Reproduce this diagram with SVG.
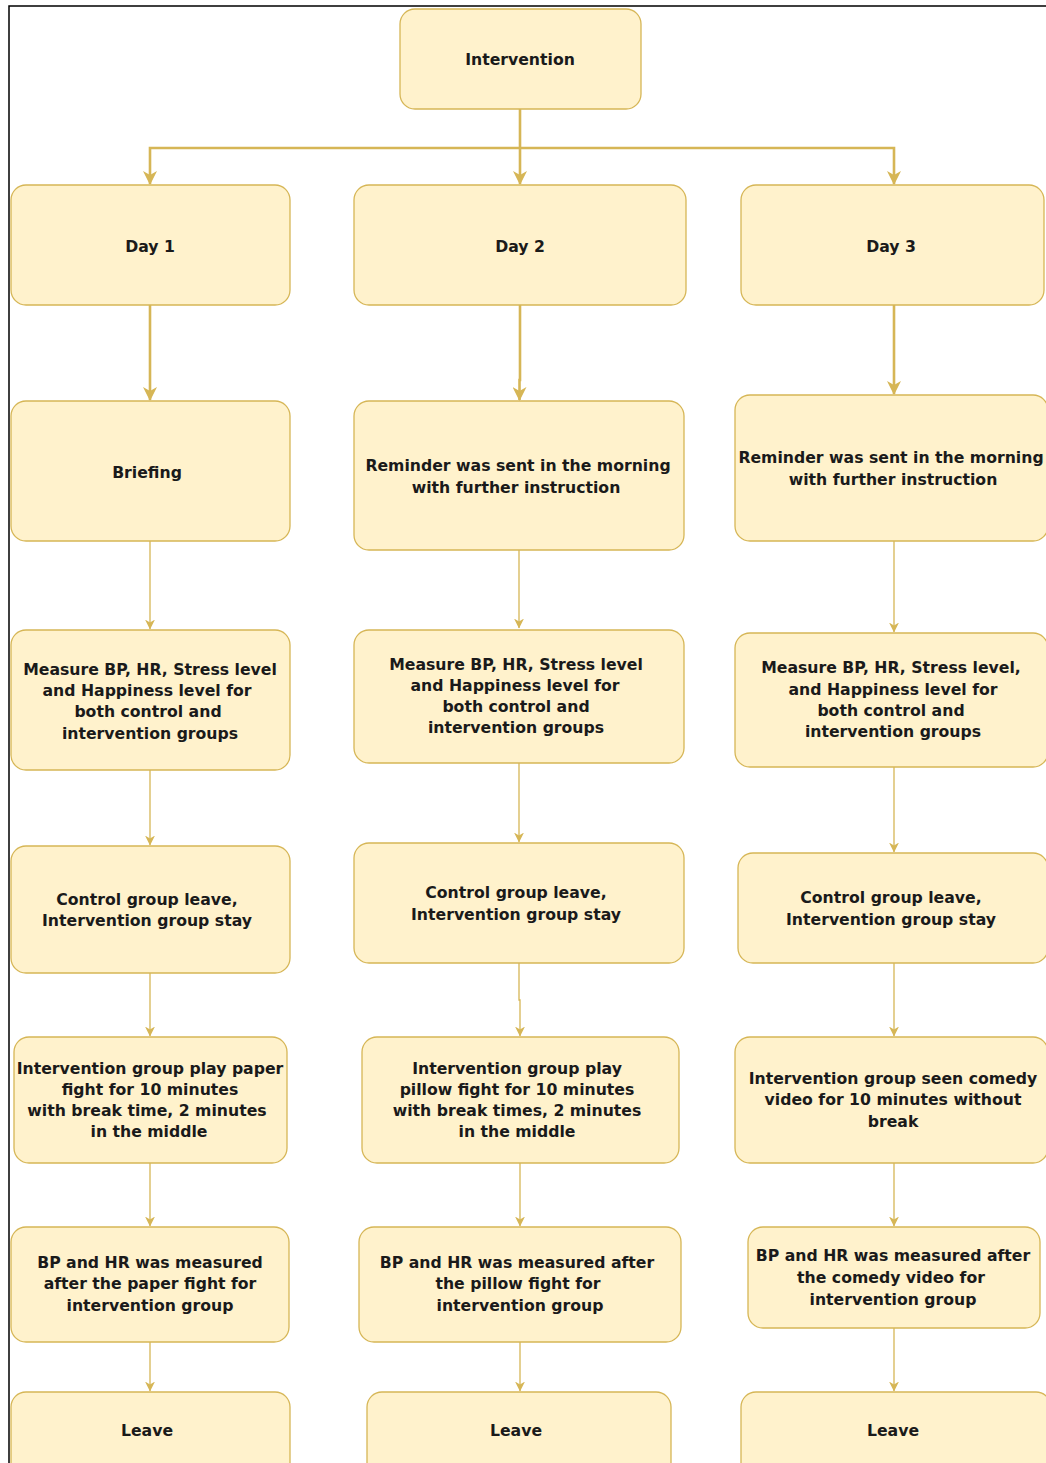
<svg xmlns="http://www.w3.org/2000/svg" width="1046" height="1463" viewBox="0 0 1046 1463">
<style>
.box{fill:#fff2cc;stroke:#d6b656;stroke-width:1.3}
.t{font-family:"DejaVu Sans",Verdana,sans-serif;font-weight:bold;font-size:15.7px;fill:#1a1a1a;text-anchor:middle}
.c1{fill:none;stroke:#d6b656;stroke-width:2.6;marker-end:url(#ab)}
.c2{fill:none;stroke:#d6b656;stroke-width:1.3;marker-end:url(#as)}
</style>
<defs>
<marker id="ab" markerUnits="userSpaceOnUse" markerWidth="14" markerHeight="14" viewBox="0 0 14 14" refX="13" refY="7" orient="auto">
<path d="M0,0 L14,7 L0,14 L4,7 z" fill="#d6b656"/>
</marker>
<marker id="as" markerUnits="userSpaceOnUse" markerWidth="10" markerHeight="10" viewBox="0 0 10 10" refX="9.5" refY="5" orient="auto">
<path d="M0,0 L10,5 L0,10 L3,5 z" fill="#d6b656"/>
</marker>
</defs>
<rect width="1046" height="1463" fill="#ffffff"/>
<path d="M9,1463 V6 H1046" fill="none" stroke="#000" stroke-width="1.5"/>

<g id="connectors">
<path class="c1" d="M520,109 V184"/>
<path class="c1" d="M520,148 H150 V184"/>
<path class="c1" d="M520,148 H894 V184"/>
<path class="c1" d="M150,305 V400"/>
<path class="c1" d="M520,305 V380 H519.5 V400"/>
<path class="c1" d="M894,305 V394"/>
<path class="c2" d="M150,541 V629"/>
<path class="c2" d="M519,550 V628"/>
<path class="c2" d="M894,541 V632"/>
<path class="c2" d="M150,770 V845"/>
<path class="c2" d="M519,763 V842"/>
<path class="c2" d="M894,767 V852"/>
<path class="c2" d="M150,973 V1036"/>
<path class="c2" d="M519,963 V1000 H520 V1036"/>
<path class="c2" d="M894,963 V1036"/>
<path class="c2" d="M150,1163 V1226"/>
<path class="c2" d="M520,1163 V1226"/>
<path class="c2" d="M894,1163 V1226"/>
<path class="c2" d="M150,1342 V1391"/>
<path class="c2" d="M520,1342 V1391"/>
<path class="c2" d="M894,1328 V1391"/>
</g>

<g id="intervention"><rect class="box" x="400" y="9" width="241" height="100" rx="15"/><text class="t" x="520" y="65">Intervention</text></g>

<g id="day1"><rect class="box" x="11" y="185" width="279" height="120" rx="15"/><text class="t" x="150" y="252">Day 1</text></g>
<g id="day2"><rect class="box" x="354" y="185" width="332" height="120" rx="15"/><text class="t" x="520" y="252">Day 2</text></g>
<g id="day3"><rect class="box" x="741" y="185" width="303" height="120" rx="15"/><text class="t" x="891" y="252">Day 3</text></g>

<g id="briefing"><rect class="box" x="11" y="401" width="279" height="140" rx="15"/><text class="t" x="147" y="478">Briefing</text></g>
<g id="reminder2"><rect class="box" x="354" y="401" width="330" height="149" rx="15"/><text class="t" x="518" y="471">Reminder was sent in the morning</text><text class="t" x="516" y="493">with further instruction</text></g>
<g id="reminder3"><rect class="box" x="735" y="395" width="313" height="146" rx="15"/><text class="t" x="891" y="463">Reminder was sent in the morning</text><text class="t" x="893" y="485">with further instruction</text></g>

<g id="measure1"><rect class="box" x="11" y="630" width="279" height="140" rx="15"/>
<text class="t" x="150" y="675">Measure BP, HR, Stress level</text>
<text class="t" x="147" y="696">and Happiness level for</text>
<text class="t" x="148" y="717">both control and</text>
<text class="t" x="150" y="739">intervention groups</text></g>
<g id="measure2"><rect class="box" x="354" y="630" width="330" height="133" rx="15"/>
<text class="t" x="516" y="670">Measure BP, HR, Stress level</text>
<text class="t" x="515" y="691">and Happiness level for</text>
<text class="t" x="516" y="712">both control and</text>
<text class="t" x="516" y="733">intervention groups</text></g>
<g id="measure3"><rect class="box" x="735" y="633" width="313" height="134" rx="15"/>
<text class="t" x="891" y="673">Measure BP, HR, Stress level,</text>
<text class="t" x="893" y="695">and Happiness level for</text>
<text class="t" x="891" y="716">both control and</text>
<text class="t" x="893" y="737">intervention groups</text></g>

<g id="control1"><rect class="box" x="11" y="846" width="279" height="127" rx="15"/>
<text class="t" x="147" y="905">Control group leave,</text>
<text class="t" x="147" y="926">Intervention group stay</text></g>
<g id="control2"><rect class="box" x="354" y="843" width="330" height="120" rx="15"/>
<text class="t" x="516" y="898">Control group leave,</text>
<text class="t" x="516" y="920">Intervention group stay</text></g>
<g id="control3"><rect class="box" x="738" y="853" width="310" height="110" rx="15"/>
<text class="t" x="891" y="903">Control group leave,</text>
<text class="t" x="891" y="925">Intervention group stay</text></g>

<g id="activity1"><rect class="box" x="14" y="1037" width="273" height="126" rx="15"/>
<text class="t" x="150" y="1074">Intervention group play paper</text>
<text class="t" x="150" y="1095">fight for 10 minutes</text>
<text class="t" x="147" y="1116">with break time, 2 minutes</text>
<text class="t" x="149" y="1137">in the middle</text></g>
<g id="activity2"><rect class="box" x="362" y="1037" width="317" height="126" rx="15"/>
<text class="t" x="517" y="1074">Intervention group play</text>
<text class="t" x="517" y="1095">pillow fight for 10 minutes</text>
<text class="t" x="517" y="1116">with break times, 2 minutes</text>
<text class="t" x="517" y="1137">in the middle</text></g>
<g id="activity3"><rect class="box" x="735" y="1037" width="313" height="126" rx="15"/>
<text class="t" x="893" y="1084">Intervention group seen comedy</text>
<text class="t" x="893" y="1105">video for 10 minutes without</text>
<text class="t" x="893" y="1127">break</text></g>

<g id="post1"><rect class="box" x="11" y="1227" width="278" height="115" rx="15"/>
<text class="t" x="150" y="1268">BP and HR was measured</text>
<text class="t" x="150" y="1289">after the paper fight for</text>
<text class="t" x="150" y="1311">intervention group</text></g>
<g id="post2"><rect class="box" x="359" y="1227" width="322" height="115" rx="15"/>
<text class="t" x="517" y="1268">BP and HR was measured after</text>
<text class="t" x="518" y="1289">the pillow fight for</text>
<text class="t" x="520" y="1311">intervention group</text></g>
<g id="post3"><rect class="box" x="748" y="1227" width="292" height="101" rx="15"/>
<text class="t" x="893" y="1261">BP and HR was measured after</text>
<text class="t" x="891" y="1283">the comedy video for</text>
<text class="t" x="893" y="1305">intervention group</text></g>

<g id="leave1"><rect class="box" x="11" y="1392" width="279" height="90" rx="15"/><text class="t" x="147" y="1436">Leave</text></g>
<g id="leave2"><rect class="box" x="367" y="1392" width="304" height="90" rx="15"/><text class="t" x="516" y="1436">Leave</text></g>
<g id="leave3"><rect class="box" x="741" y="1392" width="310" height="90" rx="15"/><text class="t" x="893" y="1436">Leave</text></g>
</svg>
